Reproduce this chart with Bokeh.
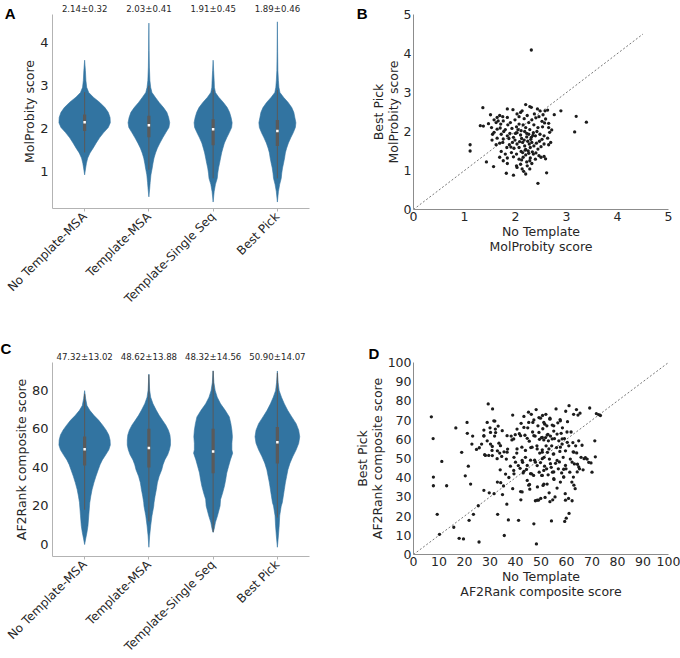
import math
from bokeh.plotting import figure
from bokeh.layouts import column, row
from bokeh.models import Range1d, FixedTicker, LinearAxis
from bokeh.embed import file_html
from bokeh.resources import INLINE

# ---------------- data ----------------
categories = ["No Template-MSA", "Template-MSA", "Template-Single Seq", "Best Pick"]

# Panel A: MolProbity score violins (y level, relative density width)
mp_means = [2.14, 2.03, 1.91, 1.89]
mp_sds = [0.32, 0.41, 0.45, 0.46]
mp_y = [
    [3.59, 3.35, 3.12, 2.96, 2.84, 2.73, 2.61, 2.49, 2.38, 2.26, 2.14, 2.03, 1.91, 1.79, 1.67, 1.55, 1.44, 1.32, 1.20, 1.09, 0.93],
    [4.45, 3.82, 3.43, 3.12, 2.96, 2.84, 2.73, 2.61, 2.49, 2.38, 2.26, 2.14, 2.03, 1.91, 1.79, 1.67, 1.55, 1.44, 1.32, 1.20, 1.09, 0.93, 0.75, 0.60, 0.42],
    [3.59, 3.35, 3.12, 2.96, 2.84, 2.73, 2.61, 2.49, 2.38, 2.26, 2.14, 2.03, 1.91, 1.79, 1.67, 1.55, 1.44, 1.32, 1.20, 1.09, 0.97, 0.85, 0.71, 0.54, 0.30],
    [4.48, 3.80, 3.35, 3.12, 2.96, 2.84, 2.73, 2.61, 2.49, 2.38, 2.26, 2.14, 2.03, 1.91, 1.79, 1.67, 1.55, 1.44, 1.32, 1.20, 1.09, 0.97, 0.85, 0.71, 0.54, 0.30],
]
mp_w = [
    [0, .03, .05, .08, .16, .34, .59, .79, .92, .99, 1.0, .92, .74, .58, .45, .33, .21, .12, .07, .04, 0],
    [0, .01, .02, .04, .07, .12, .25, .40, .57, .70, .77, .81, .78, .66, .54, .43, .33, .26, .20, .16, .13, .08, .05, .03, 0],
    [0, .02, .04, .05, .09, .22, .40, .55, .64, .70, .74, .72, .63, .53, .44, .38, .33, .29, .25, .21, .18, .16, .09, .04, 0],
    [0, .01, .02, .04, .06, .10, .24, .42, .56, .64, .68, .72, .70, .62, .52, .43, .36, .31, .28, .24, .20, .17, .15, .09, .04, 0],
]
mp_q1 = [1.95, 1.80, 1.62, 1.60]
mp_med = [2.15, 2.08, 1.99, 1.95]
mp_q3 = [2.33, 2.30, 2.22, 2.20]
mp_lo = [1.45, 1.05, 0.85, 0.85]
mp_hi = [2.85, 3.00, 2.90, 2.90]

# Panel C: AF2Rank composite score violins
af_means = [47.32, 48.62, 48.32, 50.90]
af_sds = [13.02, 13.88, 14.56, 14.07]
af_y = [
    [79.8, 75.6, 72.1, 69.6, 67.0, 64.4, 61.9, 59.3, 56.8, 54.2, 51.6, 49.1, 46.5, 43.9, 41.4, 38.8, 35.4, 32.0, 28.5, 25.1, 21.7, 20.0, 14.9, 9.7, 6.3, 2.9, 0.0],
    [88.4, 80.0, 76.4, 73.0, 69.6, 67.0, 64.4, 61.9, 59.3, 56.8, 54.2, 51.6, 49.1, 46.5, 43.9, 41.4, 38.8, 35.4, 32.0, 28.5, 25.1, 21.7, 20.0, 14.9, 9.7, 4.5, -1.4],
    [90.1, 84.0, 79.8, 76.4, 73.0, 69.6, 66.2, 62.7, 59.3, 55.9, 52.5, 49.1, 47.4, 43.9, 40.5, 37.1, 33.7, 30.3, 26.8, 23.4, 20.0, 14.9, 11.5, 8.0, 6.3],
    [90.0, 84.0, 79.8, 76.4, 73.0, 69.6, 66.2, 62.7, 59.3, 55.9, 52.5, 49.1, 45.6, 42.2, 38.8, 35.4, 32.0, 28.5, 25.1, 21.7, 20.0, 14.9, 9.7, 4.5, -1.4],
]
af_w = [
    [0, .04, .09, .20, .36, .55, .70, .84, .94, .99, 1.0, .94, .82, .69, .60, .53, .44, .36, .29, .24, .20, .19, .16, .13, .09, .04, 0],
    [0, .03, .07, .16, .29, .40, .53, .66, .76, .82, .84, .84, .80, .73, .62, .55, .50, .40, .33, .29, .24, .20, .19, .12, .07, .03, 0],
    [0, .03, .08, .16, .29, .47, .63, .69, .73, .75, .73, .73, .76, .67, .60, .53, .49, .44, .37, .29, .27, .17, .09, .04, 0],
    [0, .03, .07, .16, .27, .40, .56, .73, .83, .87, .83, .73, .60, .49, .41, .36, .31, .27, .23, .19, .15, .09, .07, .04, 0],
]
af_q1 = [41, 40, 37, 42]
af_med = [49.4, 50.1, 48.2, 53.0]
af_q3 = [56, 60, 60, 61]
af_lo = [18, 12, 6.5, 14]
af_hi = [78, 88, 90, 89]

# Panel B: No Template vs Best Pick MolProbity
b_pts = [
    (2.31, 4.09), (1.36, 2.61), (1.31, 2.15), (1.37, 2.14), (1.11, 1.66), (1.11, 1.50), (1.43, 1.22), (1.57, 1.10),
    (1.82, 0.93), (1.96, 0.88), (2.44, 0.67), (2.61, 0.94), (2.89, 2.53), (2.76, 2.43), (3.19, 2.39), (3.16, 1.99), (3.39, 2.24),
    (2.20, 2.69), (2.28, 2.64), (1.84, 2.58), (1.95, 2.56), (2.10, 2.49), (2.13, 2.53), (2.31, 2.62), (2.43, 2.58),
    (2.48, 2.53), (2.58, 2.53), (2.63, 2.55),
    (1.51, 2.43), (1.64, 2.36), (1.69, 2.41), (1.75, 2.38), (1.84, 2.36), (2.03, 2.45), (2.07, 2.38), (2.23, 2.41),
    (2.40, 2.35), (2.46, 2.38), (2.54, 2.43), (2.59, 2.32),
    (1.47, 2.20), (1.62, 2.23), (1.66, 2.27), (1.71, 2.19), (1.76, 2.27), (1.85, 2.17), (1.90, 2.23), (2.02, 2.12),
    (2.07, 2.19), (2.15, 2.17), (2.20, 2.10), (2.26, 2.23), (2.36, 2.17), (2.44, 2.10), (2.53, 2.12), (2.57, 2.22),
    (2.65, 2.21), (2.65, 2.10), (1.53, 2.10), (1.64, 2.06),
    (1.55, 1.93), (1.58, 1.98), (1.72, 1.93), (1.77, 2.00), (1.84, 1.89), (1.89, 1.95), (1.96, 1.85), (2.03, 1.97),
    (2.10, 1.91), (2.18, 2.00), (2.22, 1.86), (2.26, 1.93), (2.31, 1.85), (2.35, 1.97), (2.39, 1.89), (2.48, 1.93),
    (2.56, 1.89), (2.63, 1.83), (2.67, 1.98), (2.71, 2.04), (1.64, 1.83), (1.76, 1.81),
    (1.69, 1.70), (1.75, 1.72), (1.83, 1.59), (1.88, 1.66), (1.94, 1.72), (1.97, 1.57), (2.03, 1.68), (2.07, 1.59),
    (2.14, 1.72), (2.18, 1.63), (2.20, 1.54), (2.27, 1.68), (2.29, 1.59), (2.32, 1.72), (2.36, 1.63), (2.41, 1.70),
    (2.44, 1.55), (2.50, 1.61), (2.56, 1.68), (2.65, 1.66), (2.69, 1.72), (1.54, 1.78), (1.62, 1.66),
    (1.72, 1.49), (1.69, 1.34), (1.80, 1.42), (1.84, 1.32), (1.92, 1.46), (1.96, 1.35), (2.02, 1.42), (2.07, 1.29),
    (2.14, 1.46), (2.15, 1.34), (2.20, 1.40), (2.26, 1.44), (2.29, 1.32), (2.35, 1.42), (2.39, 1.29), (2.46, 1.38),
    (2.50, 1.34), (2.56, 1.36), (1.76, 1.25),
    (1.84, 1.18), (2.02, 1.12), (2.03, 1.08), (2.10, 1.16), (2.13, 1.04), (2.16, 0.98), (2.20, 0.91), (2.23, 1.12),
    (2.28, 1.04), (2.32, 1.18),
    (2.05, 2.05), (2.12, 1.82), (2.17, 1.78), (2.24, 1.75), (2.30, 1.80), (2.34, 1.90), (2.28, 2.05), (2.11, 2.02),
    (1.99, 1.78), (2.08, 1.74), (2.22, 1.95), (2.32, 2.30), (2.37, 2.45), (2.42, 2.00), (2.25, 1.50), (2.19, 1.52),
    (2.11, 1.49), (1.93, 2.08), (1.80, 2.05), (1.99, 2.30), (2.17, 2.33), (2.47, 1.75), (2.52, 1.80), (2.33, 1.48),
    (2.40, 1.45), (1.91, 1.60), (1.87, 1.82), (2.00, 1.95), (2.28, 1.25), (2.22, 1.22), (2.12, 1.27), (2.59, 1.30),
    (2.52, 2.26), (1.70, 2.09), (1.58, 2.30),
]
b_x = [p[0] for p in b_pts]
b_y = [p[1] for p in b_pts]

# Panel D: No Template vs Best Pick AF2Rank
d_pts = [
    (7.0, 71.7), (7.7, 60.4), (7.8, 40.3), (7.8, 35.8), (9.3, 20.9), (10.2, 10.5), (11.1, 48.5), (13.0, 35.8),
    (15.8, 14.2), (16.6, 65.9), (17.9, 8.4), (19.6, 8.1), (18.9, 53.2), (20.3, 41.0), (21.0, 68.8), (21.1, 63.1),
    (21.5, 46.0), (21.8, 17.8), (22.4, 36.7), (22.9, 57.5), (23.2, 61.7), (23.5, 20.9), (24.7, 54.7), (25.4, 25.4),
    (25.7, 6.5), (25.8, 55.6), (26.7, 57.5), (27.6, 61.7), (27.6, 64.8), (27.9, 52.0), (27.6, 33.4), (28.9, 68.8),
    (28.9, 59.2), (29.3, 78.4), (29.5, 51.6), (29.7, 32.1), (30.0, 66.0), (30.2, 57.5), (31.0, 75.8), (30.9, 56.3),
    (30.9, 51.5), (31.6, 31.7), (31.8, 61.7), (31.9, 69.5), (32.2, 63.5), (32.9, 54.0), (32.9, 37.7), (33.0, 20.9),
    (33.2, 66.9), (33.5, 58.0), (33.8, 52.8), (34.0, 44.1), (34.2, 37.4), (34.6, 51.1), (34.9, 31.2), (35.3, 35.7),
    (35.5, 53.5), (35.6, 9.9), (36.1, 41.9), (36.4, 49.7), (36.6, 26.2), (36.9, 54.9), (37.2, 18.0), (37.4, 40.1),
    (38.0, 46.0), (38.3, 61.7), (38.6, 59.7), (38.9, 72.6), (38.9, 34.3), (39.4, 42.0), (39.4, 50.6), (39.9, 62.4),
    (40.5, 52.8), (41.1, 46.3), (41.2, 17.8), (41.5, 62.9), (41.8, 44.9), (42.0, 32.8), (42.1, 28.5), (42.2, 68.3),
    (42.5, 55.9), (42.8, 48.0), (43.0, 42.5), (43.3, 71.9), (43.7, 62.1), (43.9, 50.6), (44.3, 44.3), (44.6, 38.6),
    (44.8, 66.0), (45.1, 74.1), (45.4, 59.0), (45.5, 36.5), (45.6, 34.0), (45.9, 49.1), (46.0, 55.7), (46.2, 73.0),
    (46.3, 42.0), (46.7, 63.8), (46.8, 68.8), (47.1, 41.2), (47.2, 16.0), (47.5, 49.1), (47.7, 61.7), (47.8, 28.0),
    (48.1, 75.5), (48.2, 5.5), (48.4, 56.6), (48.5, 46.3), (48.6, 35.2), (48.8, 67.0), (49.0, 28.3), (49.3, 42.9),
    (49.4, 60.0), (49.5, 52.8), (49.8, 71.0), (49.8, 47.9), (49.9, 29.2), (50.2, 60.9), (50.3, 41.2), (50.5, 54.5),
    (50.6, 72.4), (50.7, 65.5), (50.8, 36.0), (51.1, 59.7), (51.2, 50.6), (51.4, 46.0), (51.5, 67.9), (51.6, 29.7),
    (51.8, 60.9), (51.9, 73.0), (52.0, 56.6), (52.2, 44.6), (52.3, 67.0), (52.4, 36.7), (52.5, 53.2), (52.7, 62.6),
    (52.8, 41.5), (52.9, 59.2), (53.2, 32.1), (53.3, 49.7), (53.5, 71.0), (53.7, 61.7), (54.0, 45.4), (54.1, 17.5),
    (54.2, 56.6), (54.4, 67.4), (54.5, 42.9), (54.6, 28.5), (54.8, 52.3), (55.0, 64.3), (55.1, 39.1), (55.3, 60.4),
    (55.5, 30.0), (55.7, 47.5), (55.9, 75.8), (56.1, 55.7), (56.3, 34.6), (56.6, 68.6), (56.8, 44.6), (57.0, 59.2),
    (57.2, 48.2), (57.4, 53.7), (57.5, 70.3), (57.6, 37.7), (57.9, 63.1), (58.1, 42.5), (58.3, 57.5), (58.4, 66.0),
    (58.7, 50.6), (58.9, 40.3), (59.2, 60.4), (59.3, 17.2), (59.5, 31.7), (59.6, 54.0), (59.7, 74.6), (59.8, 44.6),
    (59.9, 18.9), (60.2, 63.8), (60.4, 69.2), (61.0, 21.4), (60.8, 29.2), (60.9, 56.6), (61.0, 77.5), (61.3, 42.9),
    (61.5, 49.7), (61.8, 63.8), (62.1, 37.7), (62.2, 28.0), (62.5, 58.3), (62.6, 53.5), (62.7, 40.3), (62.8, 73.0),
    (63.1, 47.2), (63.4, 34.3), (63.6, 56.6), (63.9, 75.5), (64.0, 52.9), (64.3, 47.0), (64.5, 72.6), (64.8, 59.2),
    (65.1, 44.6), (65.3, 73.6), (65.7, 50.6), (66.1, 56.9), (66.5, 44.1), (66.9, 49.9), (67.4, 50.4), (68.1, 49.7),
    (68.7, 48.0), (69.1, 76.3), (69.6, 47.7), (70.0, 42.9), (71.1, 59.2), (71.3, 50.9), (71.7, 73.4), (72.6, 72.9),
    (73.3, 72.4),
    (40.6, 65.3), (43.3, 66.2), (45.2, 68.8), (47.2, 70.1), (49.2, 71.3), (51.1, 68.8), (53.5, 70.5), (55.0, 67.0),
    (57.6, 69.6), (39.3, 60.2), (42.0, 61.9), (44.6, 60.5), (47.2, 61.9), (49.2, 63.6), (50.5, 61.0), (52.4, 62.2),
    (54.4, 60.2), (56.3, 62.7), (58.3, 60.2), (60.3, 58.4), (40.6, 55.0), (43.9, 54.2), (46.5, 55.9), (48.5, 55.0),
    (50.5, 53.3), (53.1, 55.0), (55.0, 52.4), (57.6, 55.9), (62.9, 53.3), (40.0, 48.1), (42.6, 49.0), (44.6, 46.4),
    (47.8, 48.1), (50.5, 49.9), (53.7, 47.3), (56.3, 49.0), (59.6, 46.4), (62.2, 48.1), (64.8, 45.6), (39.3, 43.8),
    (43.3, 43.3), (51.1, 43.8), (55.0, 43.0), (58.9, 44.4), (64.2, 43.0),
    (45.9, 42.1), (50.5, 41.2), (58.9, 40.4), (45.2, 36.1), (51.1, 36.6), (55.0, 39.5), (62.9, 36.1), (42.6, 32.6),
    (48.5, 28.3), (53.5, 27.5), (59.6, 28.3),
    (31.5, 69.6), (32.1, 65.3), (30.2, 63.6), (27.6, 61.9), (34.8, 64.5), (36.7, 61.9), (34.1, 56.7), (36.7, 53.3),
    (30.8, 54.2), (28.2, 51.6), (32.8, 49.9),
]
d_x = [p[0] for p in d_pts]
d_y = [p[1] for p in d_pts]

identity_b = [0, 4.5]
identity_d = [0, 100]

# ---------------- style ----------------
FONT = "DejaVu Sans"
TXT = "#262626"
VIOLIN = "#3274a1"
BOXC = "#5a5a5a"


def base_style(p, axis_color, xtick_out, ytick_out):
    p.xgrid.visible = False
    p.ygrid.visible = False
    p.outline_line_color = None
    for ax in p.axis:
        ax.axis_line_color = axis_color
        ax.major_tick_line_color = axis_color
        ax.minor_tick_line_color = None
        ax.major_tick_in = 0
        ax.major_label_text_font = FONT
        ax.major_label_text_color = TXT
        ax.axis_label_text_font = FONT
        ax.axis_label_text_font_style = "normal"
        ax.axis_label_text_color = TXT
    p.xaxis.major_tick_out = xtick_out
    p.yaxis.major_tick_out = ytick_out


def letter_title(p, text, offset, standoff):
    p.title.text = text
    p.title.align = "left"
    p.title.offset = offset
    p.title.standoff = standoff
    p.title.text_font = "Liberation Sans"
    p.title.text_font_style = "bold"
    p.title.text_font_size = "15px"
    p.title.text_color = "black"


def letter_axis(p, text, at, standoff):
    # panel letter drawn as the single tick label of an invisible outer left axis;
    # the blank second line lifts the letter above the frame's top edge
    ax = LinearAxis(ticker=FixedTicker(ticks=[at]), major_label_overrides={at: text + "\n\u00a0"},
                    axis_line_color=None, major_tick_line_color=None, minor_tick_line_color=None,
                    major_tick_out=0, major_tick_in=0, major_label_standoff=standoff,
                    major_label_text_font="Liberation Sans", major_label_text_font_style="bold",
                    major_label_text_font_size="15px", major_label_text_color="black")
    p.add_layout(ax, "left")


def stats_axis(means, sds):
    return LinearAxis(ticker=FixedTicker(ticks=list(range(len(categories)))),
                      major_label_overrides={i: "{:.2f}±{:.2f}".format(means[i], sds[i]) for i in range(len(categories))},
                      axis_line_color=None, major_tick_line_color=None, minor_tick_line_color=None,
                      major_tick_out=0, major_tick_in=0,
                      major_label_standoff=1, major_label_text_font=FONT, major_label_text_font_size="8.6px",
                      major_label_text_color=TXT)


def violin_panel(ys, ws, q1, med, q3, lo, hi, means, sds, yr, yticks, ylabel,
                 fh, btop, bbottom):
    p = figure(frame_width=257, frame_height=fh, x_range=Range1d(-0.5, 3.5), y_range=Range1d(*yr),
               output_backend="svg", toolbar_location=None,
               min_border_left=52, min_border_right=31, min_border_top=btop, min_border_bottom=bbottom)
    base_style(p, "#b3b3b3", 3, 0)
    half = 0.4
    for i in range(len(categories)):
        xs = [i + half * w for w in ws[i]] + [i - half * w for w in reversed(ws[i])]
        yy = list(ys[i]) + list(reversed(ys[i]))
        p.patch(xs, yy, fill_color=VIOLIN, line_color=VIOLIN, line_width=0.6)
    xs_c = list(range(len(categories)))
    p.segment(xs_c, lo, xs_c, hi, line_color=BOXC, line_width=1)
    p.segment(xs_c, q1, xs_c, q3, line_color=BOXC, line_width=3.2)
    p.scatter(xs_c, med, size=2.5, marker="square", color="white", line_color=None)
    p.xaxis.ticker = FixedTicker(ticks=xs_c)
    p.xaxis.major_label_overrides = {i: c for i, c in enumerate(categories)}
    p.xaxis.major_label_orientation = math.pi / 4
    p.xaxis.major_label_text_font_size = "12px"
    p.xaxis.major_label_standoff = 3
    p.yaxis.ticker = FixedTicker(ticks=yticks)
    p.yaxis.major_label_text_font_size = "13px"
    p.yaxis.major_label_standoff = 4
    p.yaxis.axis_label = ylabel
    p.yaxis.axis_label_text_font_size = "12.5px"
    p.yaxis.axis_label_standoff = 0
    p.add_layout(stats_axis(means, sds), "above")
    return p


def scatter_panel(xs, ys, ident, rng, ticks, xlabel, ylabel, fh, btop, bbottom):
    p = figure(frame_width=255, frame_height=fh, x_range=Range1d(*rng), y_range=Range1d(*rng),
               output_backend="svg", toolbar_location=None,
               min_border_left=73, min_border_right=12, min_border_top=btop, min_border_bottom=bbottom)
    base_style(p, "#8c8c8c", 0, 0)
    p.line(ident, ident, line_color="#555555", line_width=0.8, line_dash="2 2")
    p.scatter(xs, ys, size=3.3, color="#1c1c1c", line_color=None)
    p.xaxis.ticker = FixedTicker(ticks=ticks)
    p.yaxis.ticker = FixedTicker(ticks=ticks)
    for ax in p.axis:
        ax.major_label_text_font_size = "12.5px"
        ax.axis_label_text_font_size = "12.5px"
        ax.axis_label_text_line_height = 1.0
        ax.major_label_standoff = 2
        ax.axis_label_standoff = 0
    p.xaxis.axis_label = xlabel
    p.yaxis.axis_label = ylabel
    return p


# A
pa = violin_panel(mp_y, mp_w, mp_q1, mp_med, mp_q3, mp_lo, mp_hi, mp_means, mp_sds,
                  (0.15, 4.65), [1, 2, 3, 4], "MolProbity score", 194, 14, 109)
pa.title.visible = False
letter_axis(pa, "A", 4.65, 4)

# B
pb = scatter_panel(b_x, b_y, identity_b, (0, 5), [0, 1, 2, 3, 4, 5],
                   "No Template\nMolProbity score", "Best Pick\nMolProbity score", 195, 14, 108)
pb.title.visible = False
letter_axis(pb, "B", 5, 0)

# C
pc = violin_panel(af_y, af_w, af_q1, af_med, af_q3, af_lo, af_hi, af_means, af_sds,
                  (-6.2, 94.4), [0, 20, 40, 60, 80], "AF2Rank composite score", 194, 44, 103)
letter_title(pc, "C", -52, -16)

# D
pd_ = scatter_panel(d_x, d_y, identity_d, (0, 100), list(range(0, 101, 10)),
                    "No Template\nAF2Rank composite score", "Best Pick\nAF2Rank composite score",
                    192, 45, 104)
letter_title(pd_, "D", -45, 1)

layout = column(row(pa, pb), row(pc, pd_))
open("out.html", "w").write(file_html(layout, INLINE))
